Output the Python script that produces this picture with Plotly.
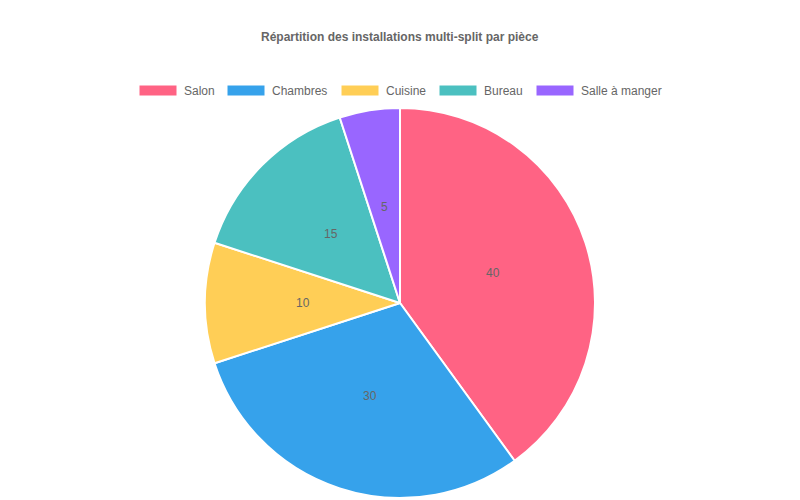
import math
import plotly.graph_objects as go

labels = ["Salon", "Chambres", "Cuisine", "Bureau", "Salle à manger"]
values = [40, 30, 10, 15, 5]
colors = ["#FF6384", "#36A2EB", "#FFCE56", "#4BC0C0", "#9966FF"]
title = "Répartition des installations multi-split par pièce"

FONT = "Liberation Sans, Arial, Helvetica, sans-serif"
W, H = 800, 500

# pie geometry (pixels)
CX, CY, R = 400, 303, 195

fig = go.Figure(go.Pie(
    labels=labels,
    values=values,
    sort=False,
    direction="clockwise",
    rotation=0,
    marker=dict(colors=colors, line=dict(color="#ffffff", width=2)),
    textinfo="none",
    hoverinfo="label+value",
    showlegend=False,
    domain=dict(x=[(CX - R) / W, (CX + R) / W], y=[(H - CY - R) / H, (H - CY + R) / H]),
))

annotations = []
# value labels at the middle of each slice (half radius, mid angle)
total = sum(values)
cum = 0
for v in values:
    mid = (cum + v / 2) / total * 2 * math.pi
    cum += v
    px = CX + R / 2 * math.sin(mid)
    py = CY - R / 2 * math.cos(mid)
    annotations.append(dict(text=str(v), xref="paper", yref="paper",
                            x=px / W, y=1 - py / H, xanchor="center", yanchor="middle",
                            showarrow=False,
                            font=dict(family=FONT, size=12, color="#666666")))

# custom legend (Chart.js style wide swatches)
box_x = [139, 227, 341, 439, 536]
shapes = []
for lab, col, bx in zip(labels, colors, box_x):
    shapes.append(dict(type="rect", xref="paper", yref="paper",
                       x0=bx / W, x1=(bx + 38) / W,
                       y0=1 - 96 / H, y1=1 - 85 / H,
                       fillcolor=col, line=dict(color="#ffffff", width=1)))
    annotations.append(dict(text=lab, xref="paper", yref="paper",
                            x=(bx + 43) / W, y=1 - 90.5 / H,
                            xanchor="left", yanchor="middle", showarrow=False,
                            font=dict(family=FONT, size=12, color="#666666")))

annotations.append(dict(text="<b>" + title + "</b>", xref="paper", yref="paper",
                        x=0.5, y=1 - 37 / H, xanchor="center", yanchor="middle",
                        showarrow=False,
                        font=dict(family=FONT, size=12, color="#666666")))

fig.update_layout(
    width=W, height=H,
    margin=dict(l=0, r=0, t=0, b=0),
    paper_bgcolor="#ffffff",
    plot_bgcolor="#ffffff",
    shapes=shapes,
    annotations=annotations,
    font=dict(family=FONT, size=12, color="#666666"),
)

fig.write_html("out.html", config={"displayModeBar": False},
               post_script="document.body.style.margin='0';")
